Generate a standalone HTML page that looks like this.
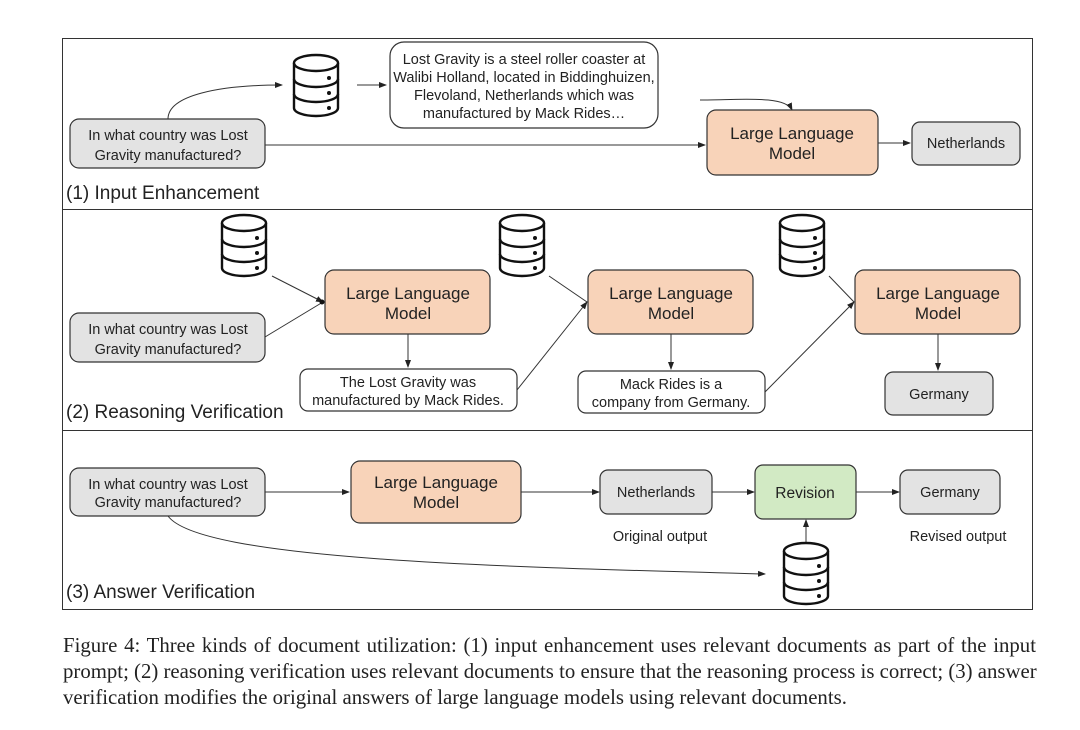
<!DOCTYPE html>
<html><head><meta charset="utf-8"><style>
html,body{margin:0;padding:0;background:#fff;width:1080px;height:730px;overflow:hidden}
svg{position:absolute;left:0;top:0}
.cap{position:absolute;left:63px;top:633px;width:973px;font-family:"Liberation Serif",serif;font-size:20.8px;line-height:26px;color:#222}
.cap span{display:block;text-align:justify;text-align-last:justify;white-space:nowrap}
.cap span.l{text-align-last:left}
</style></head><body>
<svg width="1080" height="730" viewBox="0 0 1080 730" font-family="Liberation Sans, sans-serif">
<defs>
<marker id="a" markerWidth="8" markerHeight="8" refX="7" refY="4" orient="auto" markerUnits="userSpaceOnUse"><path d="M0,1 L8,4 L0,7 z" fill="#222"/></marker>
<g id="db" fill="#fff" stroke="#111" stroke-width="2.4">
<path d="M2,9 L2,54 A22,8 0 0 0 46,54 L46,9"/>
<ellipse cx="24" cy="9" rx="22" ry="8"/>
<path d="M2,25 A22,8 0 0 0 46,25" fill="none"/>
<path d="M2,40 A22,8 0 0 0 46,40" fill="none"/>
<circle cx="37" cy="24" r="2" fill="#111" stroke="none"/>
<circle cx="37" cy="39" r="2" fill="#111" stroke="none"/>
<circle cx="37" cy="54" r="2" fill="#111" stroke="none"/>
</g>
</defs>
<rect x="62.5" y="38.5" width="970" height="571" fill="none" stroke="#333" stroke-width="1"/>
<line x1="62" y1="209.5" x2="1032" y2="209.5" stroke="#333"/>
<line x1="62" y1="430.5" x2="1032" y2="430.5" stroke="#333"/>
<g stroke="#333" stroke-width="1" fill="none">
<path d="M168,119 C168,95 220,85 282,85" marker-end="url(#a)"/>
<line x1="357" y1="85" x2="386" y2="85" marker-end="url(#a)"/>
<path d="M700,100 C740,100 785,95 792,110" marker-end="url(#a)"/>
<line x1="265" y1="145" x2="705" y2="145" marker-end="url(#a)"/>
<line x1="878" y1="143" x2="910" y2="143" marker-end="url(#a)"/>
<line x1="272" y1="276" x2="323" y2="302" marker-end="url(#a)"/>
<line x1="265" y1="337" x2="323" y2="302"/>
<line x1="408" y1="334" x2="408" y2="367" marker-end="url(#a)"/>
<line x1="517" y1="390" x2="587" y2="302" marker-end="url(#a)"/>
<line x1="549" y1="276" x2="587" y2="302"/>
<line x1="671" y1="334" x2="671" y2="369" marker-end="url(#a)"/>
<line x1="765" y1="392" x2="854" y2="302" marker-end="url(#a)"/>
<line x1="829" y1="276" x2="854" y2="302"/>
<line x1="938" y1="334" x2="938" y2="370" marker-end="url(#a)"/>
<line x1="265" y1="492" x2="349" y2="492" marker-end="url(#a)"/>
<line x1="521" y1="492" x2="599" y2="492" marker-end="url(#a)"/>
<line x1="712" y1="492" x2="754" y2="492" marker-end="url(#a)"/>
<line x1="856" y1="492" x2="899" y2="492" marker-end="url(#a)"/>
<line x1="806" y1="546" x2="806" y2="520" marker-end="url(#a)"/>
<path d="M168,516 C200,560 500,567 765,574" marker-end="url(#a)"/>
</g>
<circle cx="322" cy="302" r="2.5" fill="#111"/>
<use href="#db" x="292" y="54"/>
<use href="#db" x="220" y="214"/>
<use href="#db" x="498" y="214"/>
<use href="#db" x="778" y="214"/>
<use href="#db" x="782" y="542"/>
<g stroke="#333" stroke-width="1.2">
<rect x="70" y="119" width="195" height="49" rx="9" fill="#e3e3e3"/>
<rect x="390" y="42" width="268" height="86" rx="14" fill="#fff"/>
<rect x="707" y="110" width="171" height="65" rx="9" fill="#f8d3b9"/>
<rect x="912" y="122" width="108" height="43" rx="8" fill="#e3e3e3"/>
<rect x="70" y="313" width="195" height="49" rx="9" fill="#e3e3e3"/>
<rect x="325" y="270" width="165" height="64" rx="9" fill="#f8d3b9"/>
<rect x="300" y="369" width="217" height="42" rx="8" fill="#fff"/>
<rect x="588" y="270" width="165" height="64" rx="9" fill="#f8d3b9"/>
<rect x="578" y="371" width="187" height="42" rx="8" fill="#fff"/>
<rect x="855" y="270" width="165" height="64" rx="9" fill="#f8d3b9"/>
<rect x="885" y="372" width="108" height="43" rx="8" fill="#e3e3e3"/>
<rect x="70" y="468" width="195" height="48" rx="9" fill="#e3e3e3"/>
<rect x="351" y="461" width="170" height="62" rx="9" fill="#f8d3b9"/>
<rect x="600" y="470" width="112" height="44" rx="8" fill="#e3e3e3"/>
<rect x="755" y="465" width="101" height="54" rx="8" fill="#d2eac4"/>
<rect x="900" y="470" width="100" height="44" rx="8" fill="#e3e3e3"/>
</g>
<g fill="#222" font-size="14.5" text-anchor="middle">
<text x="168" y="140">In what country was Lost</text><text x="168" y="160">Gravity manufactured?</text>
<text x="524" y="64">Lost Gravity is a steel roller coaster at</text>
<text x="524" y="82">Walibi Holland, located in Biddinghuizen,</text>
<text x="524" y="100">Flevoland, Netherlands which was</text>
<text x="524" y="118">manufactured by Mack Rides…</text>
<text x="792" y="139" font-size="17">Large Language</text><text x="792" y="159" font-size="17">Model</text>
<text x="966" y="148">Netherlands</text>
<text x="168" y="334">In what country was Lost</text><text x="168" y="354">Gravity manufactured?</text>
<text x="408" y="299" font-size="17">Large Language</text><text x="408" y="319" font-size="17">Model</text>
<text x="408" y="387">The Lost Gravity was</text><text x="408" y="405">manufactured by Mack Rides.</text>
<text x="671" y="299" font-size="17">Large Language</text><text x="671" y="319" font-size="17">Model</text>
<text x="671" y="389">Mack Rides is a</text><text x="671" y="407">company from Germany.</text>
<text x="938" y="299" font-size="17">Large Language</text><text x="938" y="319" font-size="17">Model</text>
<text x="939" y="399">Germany</text>
<text x="168" y="489">In what country was Lost</text><text x="168" y="507">Gravity manufactured?</text>
<text x="436" y="488" font-size="17">Large Language</text><text x="436" y="508" font-size="17">Model</text>
<text x="656" y="497">Netherlands</text>
<text x="805" y="498" font-size="15.5">Revision</text>
<text x="950" y="497">Germany</text>
<text x="660" y="541">Original output</text>
<text x="958" y="541">Revised output</text>
</g>
<g fill="#222" font-size="19">
<text x="66" y="199">(1) Input Enhancement</text>
<text x="66" y="418">(2) Reasoning Verification</text>
<text x="66" y="598">(3) Answer Verification</text>
</g>
</svg>
<div class="cap"><span>Figure 4: Three kinds of document utilization: (1) input enhancement uses relevant documents as part of the input</span><span>prompt; (2) reasoning verification uses relevant documents to ensure that the reasoning process is correct; (3) answer</span><span class="l">verification modifies the original answers of large language models using relevant documents.</span></div>
</body></html>
